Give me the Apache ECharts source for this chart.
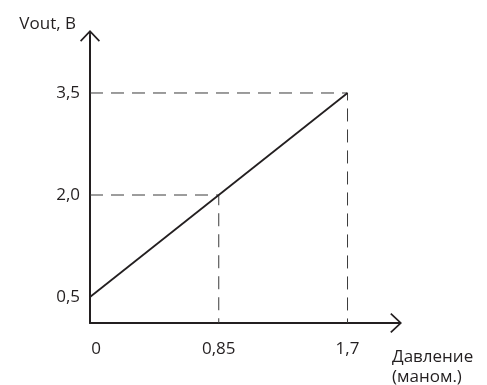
<!DOCTYPE html>
<html>
<head>
<meta charset="utf-8">
<script src="https://cdn.jsdelivr.net/npm/echarts@6/dist/echarts.min.js"></script>
<style>
  html, body { margin: 0; padding: 0; background: #fff; }
  #chart { width: 487px; height: 385px; }
</style>
</head>
<body>
<div id="chart"></div>
<script>
// schematic: Vout vs pressure
var lineX = [0, 1.7];
var lineY = [0.5, 3.5];
var xTicks = [0, 0.85, 1.7];
var yTicks = [0.5, 2.0, 3.5];
var guideMid = [0.85, 2.0];
var guideTop = [1.7, 3.5];

var X_MIN = 0, X_MAX = 2.02;
var Y_MIN = 0.118, Y_MAX = 4.338;

var ink = '#231f20';
var font = 'Open Sans';
var fs = 17;
var arrow = 'path://M10,0 L20,10.6 L18.8,11.8 L10,2.4 L1.2,11.8 L0,10.6 Z M9.1,1.5 L10.9,1.5 L10.9,12 L9.1,12 Z';

function guide(p) {
  return {
    type: 'line',
    data: [[X_MIN, p[1]], [p[0], p[1]], [p[0], Y_MIN]],
    symbol: 'none',
    silent: true,
    lineStyle: { color: '#3a3a3a', width: 1, type: [13, 8] },
    z: 1
  };
}

var chart = echarts.init(document.getElementById('chart'));

var option = {
  animation: false,
  grid: { left: 90, right: 91, top: 36, bottom: 62, outerBoundsMode: 'none' },
  xAxis: {
    type: 'value',
    min: X_MIN,
    max: X_MAX,
    name: 'Давление\n(маном.)',
    nameLocation: 'end',
    nameGap: -4,
    nameTextStyle: {
      fontFamily: font, fontSize: fs, color: ink,
      align: 'left', verticalAlign: 'top', lineHeight: 20,
      padding: [24, 0, 0, 0]
    },
    axisLine: {
      lineStyle: { color: ink, width: 2 },
      symbol: ['none', arrow],
      symbolSize: [20, 12]
    },
    axisTick: { show: false },
    splitLine: { show: false },
    axisLabel: {
      customValues: xTicks,
      margin: 18,
      fontFamily: font, fontSize: fs, color: ink,
      formatter: function (v) {
        return v === 0 ? '{z|0}' : String(v).replace('.', ',');
      },
      rich: { z: { fontFamily: font, fontSize: fs, color: ink, padding: [0, 0, 0, 12] } }
    }
  },
  yAxis: {
    type: 'value',
    min: Y_MIN,
    max: Y_MAX,
    name: 'Vout, B',
    nameLocation: 'end',
    nameGap: 3,
    nameTextStyle: {
      fontFamily: font, fontSize: fs, color: ink,
      align: 'right', padding: [0, 14, 0, 0]
    },
    axisLine: {
      lineStyle: { color: ink, width: 2 },
      symbol: ['none', arrow],
      symbolSize: [20, 12]
    },
    axisTick: { show: false },
    splitLine: { show: false },
    axisLabel: {
      customValues: yTicks,
      margin: 10,
      fontFamily: font, fontSize: fs, color: ink,
      formatter: function (v) { return v.toFixed(1).replace('.', ','); }
    }
  },
  series: [
    guide(guideMid),
    guide(guideTop),
    {
      type: 'line',
      data: lineX.map(function (x, i) { return [x, lineY[i]]; }),
      symbol: 'none',
      lineStyle: { color: ink, width: 1.8 },
      z: 3
    }
  ]
};

chart.setOption(option);
</script>
</body>
</html>
